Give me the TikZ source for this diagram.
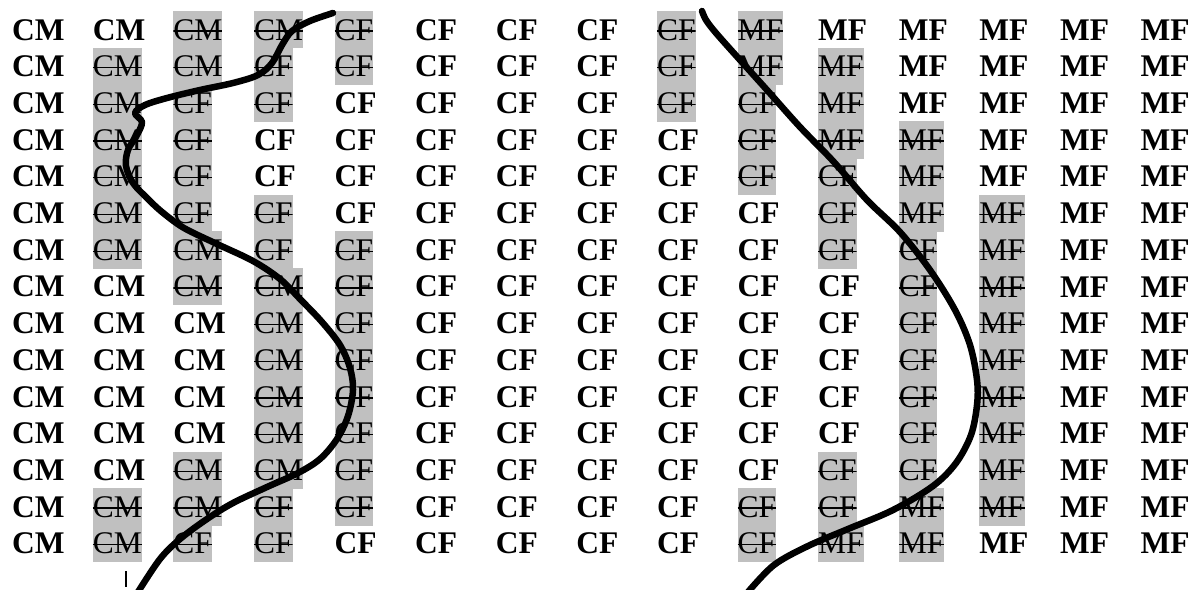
\documentclass[tikz,border=0pt]{standalone}
\usepackage{fontspec}
\setmainfont{Liberation Serif}
\usepackage{tikz}
\usepackage{xcolor}
\definecolor{boxgray}{RGB}{192,192,192}
\newcommand{\cellfont}{\fontsize{31.5}{31.5}\selectfont}

\begin{document}
\begin{tikzpicture}[x=1pt,y=-1pt,line join=round,
  cell/.style={anchor=west,inner sep=0pt,minimum height=37.2pt,font=\cellfont},
  state 0/.style={font=\cellfont\bfseries},
  state 1/.style={fill=boxgray,path picture={
    \draw[line width=1.3pt] ([yshift=-1.2pt]path picture bounding box.west)
      -- ([yshift=-1.2pt]path picture bounding box.east);}},
  border/.style={line width=6.5pt,line cap=round}]
  \useasboundingbox (0,0) rectangle (1198,589);
  % 0 = kept, 1 = struck out
  \foreach \line [count=\r] in {
    {CM/0,CM/0,CM/1,CM/1,CF/1,CF/0,CF/0,CF/0,CF/1,MF/1,MF/0,MF/0,MF/0,MF/0,MF/0},
    {CM/0,CM/1,CM/1,CF/1,CF/1,CF/0,CF/0,CF/0,CF/1,MF/1,MF/1,MF/0,MF/0,MF/0,MF/0},
    {CM/0,CM/1,CF/1,CF/1,CF/0,CF/0,CF/0,CF/0,CF/1,CF/1,MF/1,MF/0,MF/0,MF/0,MF/0},
    {CM/0,CM/1,CF/1,CF/0,CF/0,CF/0,CF/0,CF/0,CF/0,CF/1,MF/1,MF/1,MF/0,MF/0,MF/0},
    {CM/0,CM/1,CF/1,CF/0,CF/0,CF/0,CF/0,CF/0,CF/0,CF/1,CF/1,MF/1,MF/0,MF/0,MF/0},
    {CM/0,CM/1,CF/1,CF/1,CF/0,CF/0,CF/0,CF/0,CF/0,CF/0,CF/1,MF/1,MF/1,MF/0,MF/0},
    {CM/0,CM/1,CM/1,CF/1,CF/1,CF/0,CF/0,CF/0,CF/0,CF/0,CF/1,CF/1,MF/1,MF/0,MF/0},
    {CM/0,CM/0,CM/1,CM/1,CF/1,CF/0,CF/0,CF/0,CF/0,CF/0,CF/0,CF/1,MF/1,MF/0,MF/0},
    {CM/0,CM/0,CM/0,CM/1,CF/1,CF/0,CF/0,CF/0,CF/0,CF/0,CF/0,CF/1,MF/1,MF/0,MF/0},
    {CM/0,CM/0,CM/0,CM/1,CF/1,CF/0,CF/0,CF/0,CF/0,CF/0,CF/0,CF/1,MF/1,MF/0,MF/0},
    {CM/0,CM/0,CM/0,CM/1,CF/1,CF/0,CF/0,CF/0,CF/0,CF/0,CF/0,CF/1,MF/1,MF/0,MF/0},
    {CM/0,CM/0,CM/0,CM/1,CF/1,CF/0,CF/0,CF/0,CF/0,CF/0,CF/0,CF/1,MF/1,MF/0,MF/0},
    {CM/0,CM/0,CM/1,CM/1,CF/1,CF/0,CF/0,CF/0,CF/0,CF/0,CF/1,CF/1,MF/1,MF/0,MF/0},
    {CM/0,CM/1,CM/1,CF/1,CF/1,CF/0,CF/0,CF/0,CF/0,CF/1,CF/1,MF/1,MF/1,MF/0,MF/0},
    {CM/0,CM/1,CF/1,CF/1,CF/0,CF/0,CF/0,CF/0,CF/0,CF/1,MF/1,MF/1,MF/0,MF/0,MF/0}}
    \foreach \t/\s [count=\k] in \line
      \node[cell,state \s] (c-\r-\k) at ({12+80.6*(\k-1)},{29.8+36.7*(\r-1)}) {\t};
  % the two boundaries
  \draw[border] plot[smooth,tension=0.55] coordinates {
    (333,13) (310,21) (292,31) (282,45) (272,63) (258,75) (233,83) (200,90)
    (167,98) (145,105) (135,113) (142,122) (137,135) (128,150) (126,166)
    (133,183) (147,198) (162,212) (184,228) (217,244) (253,261) (280,279)
    (301,300) (322,322) (340,345) (350,368) (353,390) (348,416) (337,439)
    (320,459) (298,473) (267,487) (233,503) (207,519) (180,539) (160,559) (138,592)};
  \draw[border] plot[smooth,tension=0.55] coordinates {
    (702,11) (706,20) (716,33) (740,60) (767,90) (800,127) (833,161) (867,200)
    (900,232) (930,270) (955,310) (970,345) (977,380) (977,405) (971,435)
    (956,463) (933,486) (893,510) (848,529) (808,546) (774,565) (748,592)};
  \coordinate (tickA) at (126,571);
  \coordinate (tickB) at (126,587);
  \draw[line width=1.2pt] (tickA) -- (tickB);
\end{tikzpicture}
\end{document}
